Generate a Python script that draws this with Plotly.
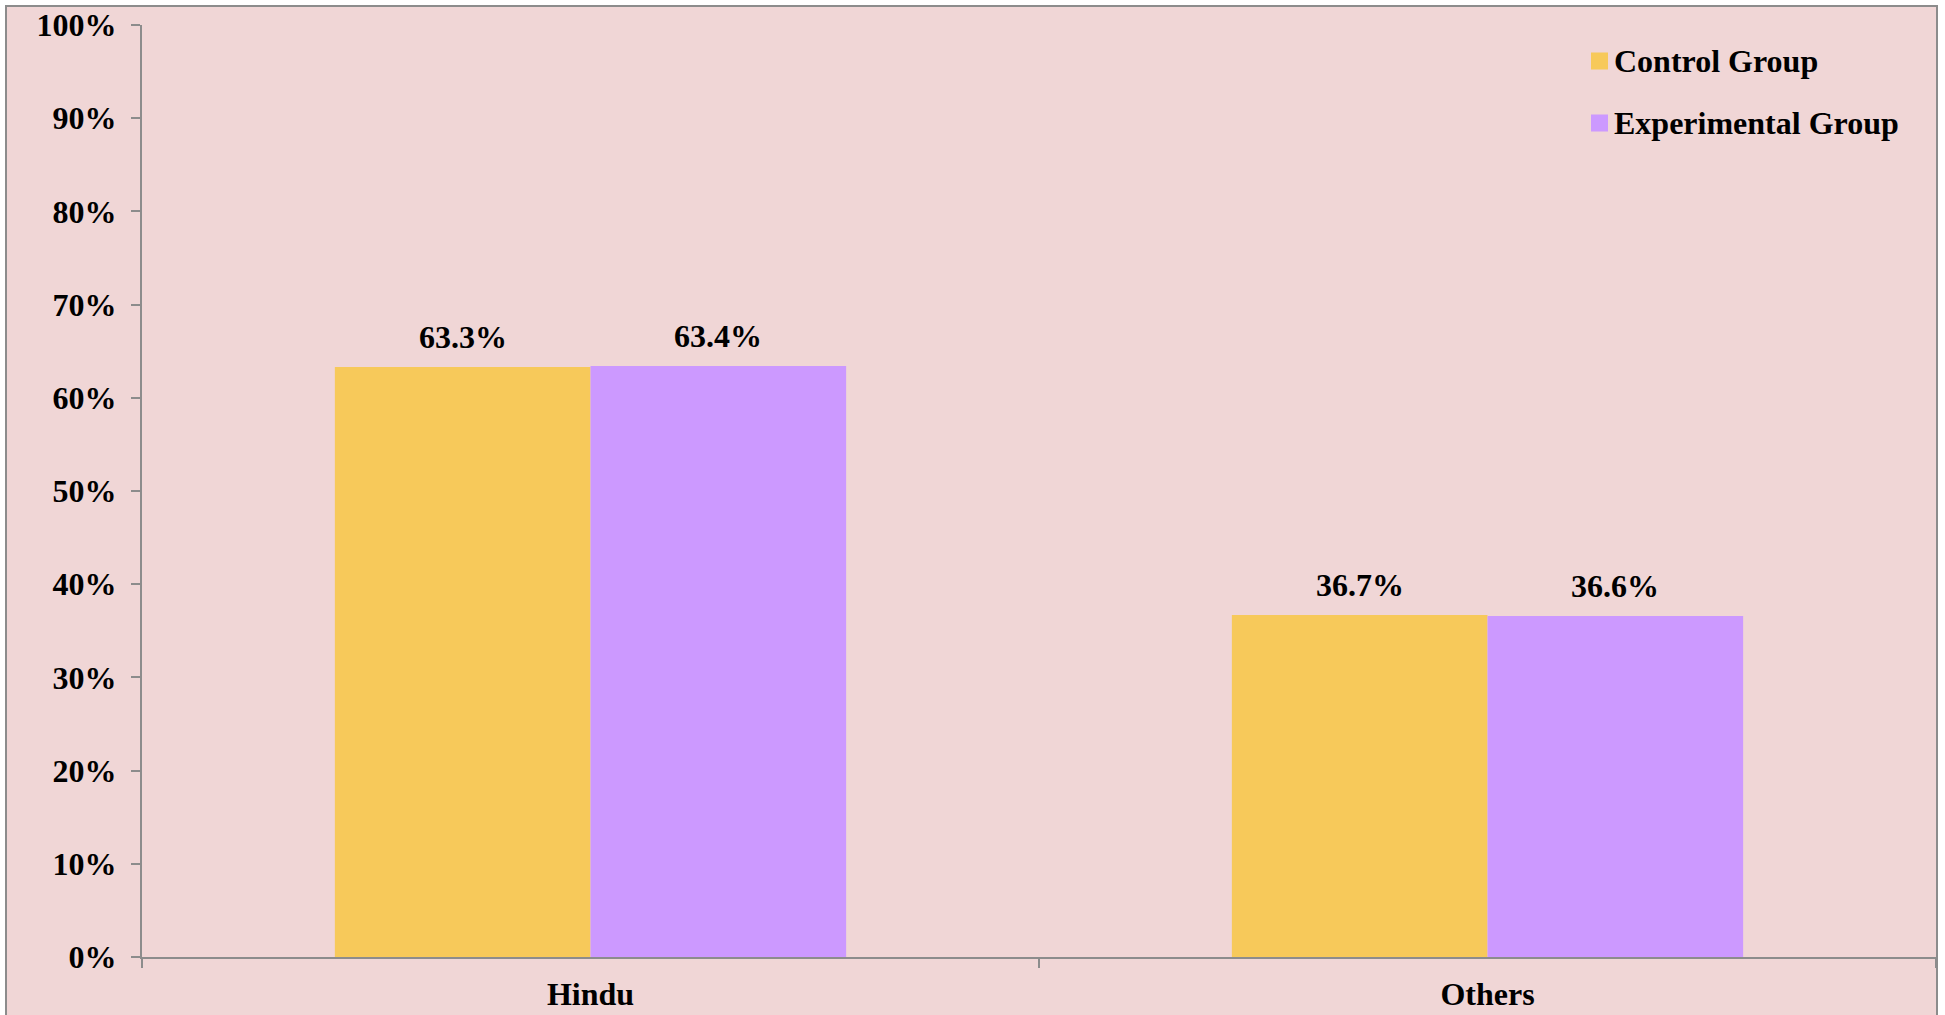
import plotly.graph_objects as go

# Religion distribution of respondents, by study group
categories = ["Hindu", "Others"]
control_group = [0.633, 0.367]
experimental_group = [0.634, 0.366]
series_names = ["Control Group", "Experimental Group"]
series_colors = ["#F7C95A", "#CC99FF"]
y_tick_values = [i / 10 for i in range(11)]
y_tick_labels = [f"{i * 10}%" for i in range(11)]

W, H = 1945, 1015
L, R, T, B = 142, 9, 25, 58
plot_w = W - L - R
plot_h = H - T - B

FONT = "Liberation Serif, Times New Roman, serif"
FSIZE = 32
AXIS_GREY = "#8C8C8C"
BG = "#F0D6D6"
BARGAP = 0.43


def px_x(px):
    return (px - L) / plot_w


def px_y(py):
    return (H - B - py) / plot_h


fig = go.Figure()
series_values = [control_group, experimental_group]
for name, vals, color in zip(series_names, series_values, series_colors):
    fig.add_trace(go.Bar(
        x=categories,
        y=vals,
        name=name,
        marker=dict(color=color, line=dict(width=0)),
        showlegend=False,
    ))

# outer frame
shapes = [dict(
    type="rect", xref="paper", yref="paper", layer="below",
    x0=px_x(6), x1=px_x(1937), y0=px_y(1040), y1=px_y(6),
    fillcolor=BG, line=dict(color=AXIS_GREY, width=2),
)]

annotations = []

# value labels above each bar
bar_px = plot_w / len(categories) * (1 - BARGAP) / len(series_names)
for si, vals in enumerate(series_values):
    offset = (si - (len(series_names) - 1) / 2) * bar_px
    for cat, v in zip(categories, vals):
        annotations.append(dict(
            xref="x", yref="y", x=cat, y=v, xshift=offset, yshift=10,
            xanchor="center", yanchor="bottom", showarrow=False,
            text=f"<b>{v * 100:.1f}%</b>",
            font=dict(family=FONT, size=FSIZE, color="black"),
        ))

# legend drawn as swatches with labels
legend_rows = [61, 123]
for name, color, cy in zip(series_names, series_colors, legend_rows):
    shapes.append(dict(
        type="rect", xref="paper", yref="paper",
        x0=px_x(1591), x1=px_x(1608), y0=px_y(cy + 8.5), y1=px_y(cy - 8.5),
        fillcolor=color, line=dict(width=0),
    ))
    annotations.append(dict(
        xref="paper", yref="paper", x=px_x(1612), y=px_y(cy),
        xanchor="left", yanchor="middle", showarrow=False,
        text=f"<b>{name}</b>",
        font=dict(family=FONT, size=FSIZE, color="black"),
    ))

fig.update_layout(
    width=W, height=H,
    margin=dict(l=L, r=R, t=T, b=B, autoexpand=False),
    paper_bgcolor="white",
    plot_bgcolor="rgba(0,0,0,0)",
    barmode="group",
    bargap=BARGAP,
    bargroupgap=0,
    shapes=shapes,
    annotations=annotations,
    font=dict(family=FONT, size=FSIZE, color="black"),
    xaxis=dict(
        type="category",
        automargin=False,
        tickson="boundaries",
        ticks="outside", ticklen=9, tickwidth=2, tickcolor=AXIS_GREY,
        showline=True, linecolor=AXIS_GREY, linewidth=2,
        showgrid=False,
        ticklabelstandoff=8,
        tickfont=dict(family=FONT, size=FSIZE, color="black", weight="bold"),
    ),
    yaxis=dict(
        range=[0, 1],
        automargin=False,
        tickvals=y_tick_values,
        ticktext=y_tick_labels,
        ticks="outside", ticklen=9, tickwidth=2, tickcolor=AXIS_GREY,
        showline=True, linecolor=AXIS_GREY, linewidth=2,
        showgrid=False, zeroline=False,
        ticklabelstandoff=8,
        tickfont=dict(family=FONT, size=FSIZE, color="black", weight="bold"),
    ),
)

fig.write_html("out.html")
